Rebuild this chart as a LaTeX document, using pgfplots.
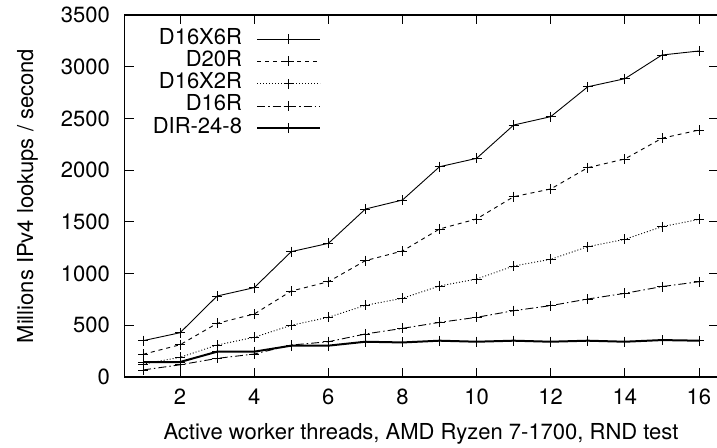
\documentclass[border=0pt]{standalone}
\usepackage{fontspec}
\setmainfont{TeX Gyre Heros}
\usepackage{pgfplots}
\pgfplotsset{compat=1.18}
\begin{document}
\fontsize{22bp}{26bp}\selectfont
\begin{tikzpicture}
\path[use as bounding box] (0,0) rectangle (717bp,448bp);
\begin{axis}[
  at={(124.5bp,71bp)}, anchor=south west,
  scale only axis, width=593bp, height=362bp,
  xmin=0.5, xmax=16.5, ymin=0, ymax=3500,
  xtick={2,4,...,16}, ytick={0,500,...,3500},
  tick align=inside, major tick length=9bp,
  axis line style={line width=1.3bp},
  every tick/.style={black, line width=0.9bp},
  /pgf/number format/assume math mode=true,
  /pgf/number format/set thousands separator={},
  tick label style={font=\fontsize{22bp}{26bp}\selectfont, inner sep=0pt},
  xticklabel style={yshift=-12bp},
  yticklabel style={xshift=-14.5bp},
  label style={font=\fontsize{22bp}{26bp}\selectfont, inner sep=0pt},
  xlabel={Active worker threads, AMD Ryzen 7-1700, RND test},
  ylabel={Millions IPv4 lookups / second},
  xlabel style={at={(axis description cs:0.5,0)}, anchor=north, yshift=-46bp},
  ylabel style={at={(axis description cs:-0.1543,0.5)}, anchor=base},
  legend plot pos=right,
  legend cell align=right,
  legend image code/.code={\draw[mark repeat=2,mark phase=2,#1] plot coordinates {(0bp,0bp) (31.5bp,0bp) (63bp,0bp)};},
  legend style={draw=none, fill=none, inner sep=0pt, outer sep=0pt,
    at={(axis description cs:0.3314,0.964)}, anchor=north east,
    row sep=0pt, column sep=14bp,
    font=\fontsize{22bp}{26bp}\selectfont,
    nodes={inner sep=0pt, text height=16bp, text depth=6.3bp}},
  every axis plot/.append style={black, mark=+, mark size=5bp, mark options={solid, line width=0.8bp}},
]
\addplot[line width=0.9bp] coordinates {
(1,351) (2,428) (3,783) (4,864) (5,1212) (6,1292) (7,1624) (8,1711)
(9,2033) (10,2114) (11,2436) (12,2517) (13,2806) (14,2884) (15,3113) (16,3152)};
\addlegendentry{D16X6R}
\addplot[line width=0.9bp, dash pattern=on 4bp off 4bp] coordinates {
(1,219) (2,312) (3,519) (4,609) (5,831) (6,921) (7,1125) (8,1218)
(9,1431) (10,1528) (11,1743) (12,1818) (13,2024) (14,2108) (15,2308) (16,2388)};
\addlegendentry{D20R}
\addplot[line width=0.9bp, dash pattern=on 1bp off 2bp] coordinates {
(1,125) (2,190) (3,309) (4,384) (5,500) (6,577) (7,693) (8,761)
(9,880) (10,947) (11,1073) (12,1138) (13,1260) (14,1331) (15,1453) (16,1524)};
\addlegendentry{D16X2R}
\addplot[line width=0.9bp, dash pattern=on 8bp off 3bp on 1.5bp off 3bp] coordinates {
(1,68) (2,118) (3,180) (4,222) (5,309) (6,341) (7,416) (8,470)
(9,528) (10,577) (11,641) (12,690) (13,754) (14,809) (15,874) (16,921)};
\addlegendentry{D16R}
\addplot[line width=2bp] coordinates {
(1,145) (2,145) (3,245) (4,245) (5,303) (6,303) (7,341) (8,334)
(9,351) (10,341) (11,351) (12,341) (13,351) (14,341) (15,357) (16,351)};
\addlegendentry{DIR-24-8}
\end{axis}
\end{tikzpicture}
\end{document}
